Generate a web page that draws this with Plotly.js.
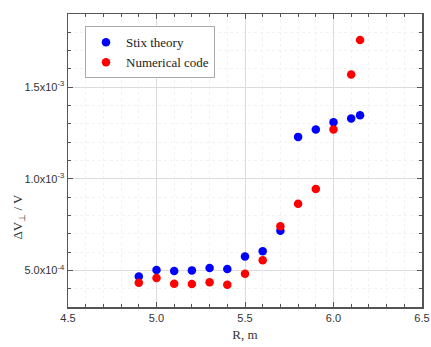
<!DOCTYPE html>
<html>
<head>
<meta charset="utf-8">
<script src="https://cdn.plot.ly/plotly-3.0.1.min.js"></script>
<style>html,body{margin:0;padding:0;background:#fff;}#chart{width:431px;height:347px;}</style>
</head>
<body>
<div id="chart"></div>
<script>
const R = [4.9, 5.0, 5.1, 5.2, 5.3, 5.4, 5.5, 5.6, 5.7, 5.8, 5.9, 6.0, 6.1, 6.15];
const stixTheory = [4.66e-4, 5.02e-4, 4.97e-4, 5.0e-4, 5.13e-4, 5.07e-4, 5.76e-4, 6.04e-4, 7.17e-4, 1.229e-3, 1.269e-3, 1.309e-3, 1.329e-3, 1.347e-3];
const numericalCode = [4.33e-4, 4.58e-4, 4.27e-4, 4.25e-4, 4.35e-4, 4.22e-4, 4.82e-4, 5.55e-4, 7.41e-4, 8.64e-4, 9.44e-4, 1.269e-3, 1.569e-3, 1.758e-3];
const yTickVals = [5.0e-4, 1.0e-3, 1.5e-3];
const yTickText = ['5.0x10<sup>-4</sup>', '1.0x10<sup>-3</sup>', '1.5x10<sup>-3</sup>'];
const xTickVals = [4.5, 5.0, 5.5, 6.0, 6.5];
const xTickText = ['4.5', '5.0', '5.5', '6.0', '6.5'];

const traces = [
  {x: R, y: stixTheory, mode: 'markers', type: 'scatter', name: 'Stix theory',
   marker: {color: '#0000ff', size: 8.5}},
  {x: R, y: numericalCode, mode: 'markers', type: 'scatter', name: 'Numerical code',
   marker: {color: '#ff0000', size: 8.5}}
];

const axisCommon = {
  showline: true, linecolor: '#555', linewidth: 1.5, mirror: 'ticks',
  ticks: 'inside', ticklen: 5, tickwidth: 1, tickcolor: '#555',
  showgrid: true, gridcolor: '#dcdcdc', gridwidth: 1,
  zeroline: false,
  tickfont: {family: 'Liberation Sans, Arial, sans-serif', size: 11, color: '#333'}
};

const layout = {
  width: 431, height: 347,
  margin: {l: 68, r: 9, t: 14, b: 40},
  paper_bgcolor: '#fff', plot_bgcolor: '#fff',
  showlegend: true,
  legend: {x: 0.048, y: 0.958, xanchor: 'left', yanchor: 'top',
    bgcolor: '#fff', bordercolor: '#aaa', borderwidth: 1,
    font: {family: 'Liberation Serif, Times New Roman, serif', size: 13, color: '#222'},
    itemsizing: 'trace', tracegroupgap: 0},
  xaxis: Object.assign({}, axisCommon, {
    range: [4.5, 6.5], tickvals: xTickVals, ticktext: xTickText,
    minor: {dtick: 0.1, ticks: 'inside', ticklen: 3, tickcolor: '#555', showgrid: true, gridcolor: '#f2f2f2', griddash: 'dot'},
    title: {text: 'R, m', standoff: 7, font: {family: 'Liberation Serif, Times New Roman, serif', size: 13, color: '#333'}}
  }),
  yaxis: Object.assign({}, axisCommon, {
    range: [3.0e-4, 1.9e-3], tickvals: yTickVals, ticktext: yTickText,
    minor: {dtick: 1e-4, tick0: 0, ticks: 'inside', ticklen: 3, tickcolor: '#555', showgrid: true, gridcolor: '#f2f2f2', griddash: 'dot'}
  }),
  annotations: [{
    text: 'ΔV<sub>⊥</sub> / V', xref: 'paper', yref: 'paper',
    x: -0.14, y: 0.31, xanchor: 'center', yanchor: 'middle', textangle: -90,
    showarrow: false,
    font: {family: 'Liberation Serif, Times New Roman, serif', size: 13, color: '#333'}
  }]
};

Plotly.newPlot('chart', traces, layout, {displayModeBar: false, staticPlot: true});
</script>
</body>
</html>
